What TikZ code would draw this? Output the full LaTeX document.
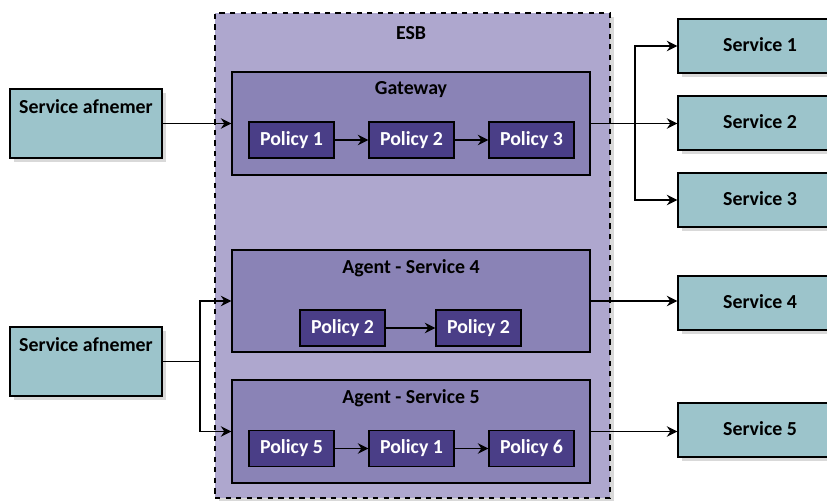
\documentclass[tikz,border=0pt]{standalone}
\usepackage{fontspec}
\setmainfont{Carlito}
\usetikzlibrary{arrows.meta,shadows}

\definecolor{svcfill}{HTML}{9CC4CB}
\definecolor{esbfill}{HTML}{AEA7CE}
\definecolor{agentfill}{HTML}{8A83B6}
\definecolor{polfill}{HTML}{4A3E87}

\begin{document}
\begin{tikzpicture}[
        font=\bfseries\fontsize{11.3}{13}\selectfont,
        svc/.style={draw, line width=0.7pt, fill=svcfill, minimum height=1.08cm,
            drop shadow={shadow xshift=2pt, shadow yshift=-2pt, opacity=0.3}},
        agent/.style={draw, line width=0.7pt, fill=agentfill, minimum width=7.16cm},
        policy/.style={draw, line width=0.7pt, fill=polfill, text=white,
            minimum width=1.7cm, minimum height=0.72cm},
        flow/.style={line width=0.9pt, -{Stealth[length=6pt,width=6pt]}}
    ]
    \useasboundingbox (0,0) rectangle (16.54,-10.02);

    % bus
    \node[draw, dashed, line width=0.7pt, fill=esbfill, minimum width=7.9cm, minimum height=9.7cm,
        drop shadow={shadow xshift=2pt, shadow yshift=-2pt, opacity=0.3}] (esb) at (8.25,-5.11) {};
    \node (esbt) at (8.22,-0.66) {ESB};

    % gateway
    \node[agent, minimum height=2.06cm] (gw) at (8.22,-2.47) {};
    \node (gwt) at (8.22,-1.80) {Gateway};
    \node[policy] (p1) at (5.83,-2.80) {Policy 1};
    \node[policy] (p2) at (8.23,-2.80) {Policy 2};
    \node[policy] (p3) at (10.63,-2.80) {Policy 3};

    % agent for service 4
    \node[agent, minimum height=2.04cm] (ag4) at (8.22,-6.02) {};
    \node (ag4t) at (8.22,-5.36) {Agent - Service 4};
    \node[policy] (q1) at (6.85,-6.56) {Policy 2};
    \node[policy] (q2) at (9.57,-6.56) {Policy 2};

    % agent for service 5
    \node[agent, minimum height=2.06cm] (ag5) at (8.22,-8.63) {};
    \node (ag5t) at (8.22,-7.96) {Agent - Service 5};
    \node[policy] (r1) at (5.83,-8.97) {Policy 5};
    \node[policy] (r2) at (8.23,-8.97) {Policy 1};
    \node[policy] (r3) at (10.63,-8.97) {Policy 6};

    % consumers
    \node[svc, minimum width=3.04cm, minimum height=1.38cm] (sa1) at (1.72,-2.47) {};
    \node (sa1t) at (1.72,-2.14) {Service afnemer};
    \node[svc, minimum width=3.04cm, minimum height=1.38cm] (sa2) at (1.72,-7.23) {};
    \node (sa2t) at (1.72,-6.90) {Service afnemer};

    % providers
    \node[svc, minimum width=3.14cm] (s1) at (15.13,-0.92) {};
    \node[svc, minimum width=3.14cm] (s2) at (15.13,-2.46) {};
    \node[svc, minimum width=3.14cm] (s3) at (15.13,-4.00) {};
    \node[svc, minimum width=3.14cm] (s4) at (15.13,-6.06) {};
    \node[svc, minimum width=3.14cm] (s5) at (15.13,-8.60) {};
    \node (s1t) at (15.20,-0.90) {Service 1};
    \node (s2t) at (15.20,-2.44) {Service 2};
    \node (s3t) at (15.20,-3.98) {Service 3};
    \node (s4t) at (15.20,-6.04) {Service 4};
    \node (s5t) at (15.20,-8.58) {Service 5};

    \coordinate (fork) at (12.70,-2.47);
    \coordinate (join) at (4.00,-7.23);

    \draw[flow] (p1) -- (p2);
    \draw[flow] (p2) -- (p3);
    \draw[flow] (q1) -- (q2);
    \draw[flow] (r1) -- (r2);
    \draw[flow] (r2) -- (r3);

    \draw[flow] (sa1.east) -- (gw.west);
    \draw[line width=0.9pt] (sa2.east) -- (join);
    \draw[flow] (join) |- (ag4.west);
    \draw[flow] (join) |- (ag5.west);

    \draw[flow] (gw.east) -- (gw.east -| s2.west);
    \draw[flow] (fork) |- (s1.west);
    \draw[flow] (fork) |- (s3.west);
    \draw[flow] (ag4.east) -- (ag4.east -| s4.west);
    \draw[flow] (ag5.east) -- (ag5.east -| s5.west);
\end{tikzpicture}
\end{document}
